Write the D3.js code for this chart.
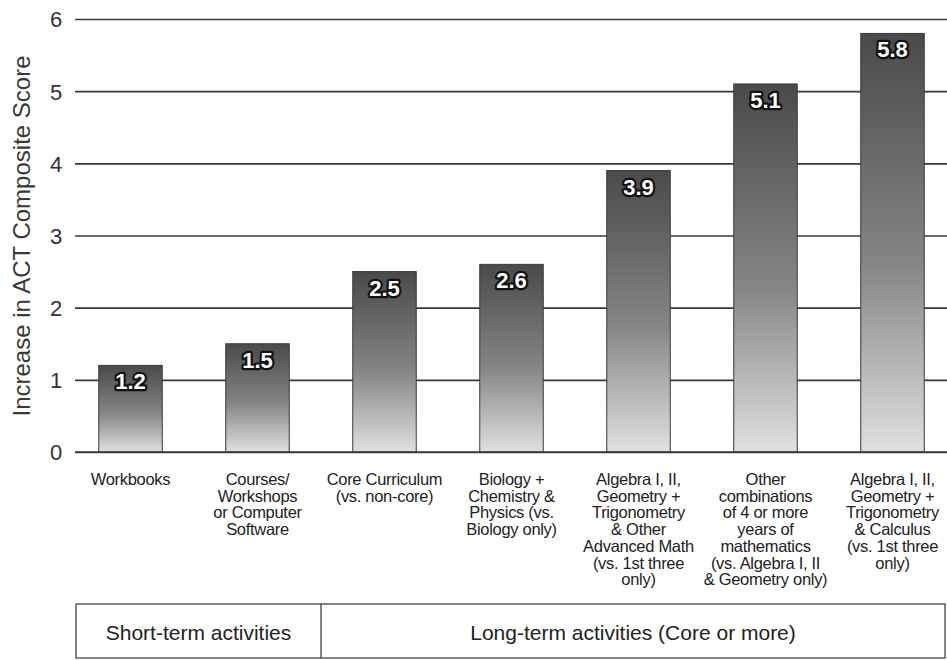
<!DOCTYPE html>
<html>
<head>
<meta charset="utf-8">
<script src="https://cdn.jsdelivr.net/npm/d3@7"></script>
<style>
  body { margin: 0; background: #fff; }
  text { font-family: "Liberation Sans", Arial, sans-serif; }
</style>
</head>
<body>
<div id="chart"></div>
<script>
var categories = [
  ["Workbooks"],
  ["Courses/", "Workshops", "or Computer", "Software"],
  ["Core Curriculum", "(vs. non-core)"],
  ["Biology +", "Chemistry &", "Physics (vs.", "Biology only)"],
  ["Algebra I, II,", "Geometry +", "Trigonometry", "& Other", "Advanced Math", "(vs. 1st three", "only)"],
  ["Other", "combinations", "of 4 or more", "years of", "mathematics", "(vs. Algebra I, II", "& Geometry only)"],
  ["Algebra I, II,", "Geometry +", "Trigonometry", "& Calculus", "(vs. 1st three", "only)"]
];
var values = [1.2, 1.5, 2.5, 2.6, 3.9, 5.1, 5.8];
var yTicks = [0, 1, 2, 3, 4, 5, 6];
var groups = [
  {label: "Short-term activities", first: 0, last: 1},
  {label: "Long-term activities (Core or more)", first: 2, last: 6}
];
var yTitle = "Increase in ACT Composite Score";

var W = 947, H = 660;
var gridLeft = 75, gridRight = 947;

var svg = d3.select("#chart").append("svg")
    .attr("width", W)
    .attr("height", H);

var defs = svg.append("defs");
var grad = defs.append("linearGradient")
    .attr("id", "barGrad")
    .attr("x1", 0).attr("y1", 0).attr("x2", 0).attr("y2", 1);
grad.append("stop").attr("offset", "0%").attr("stop-color", "#4a4a4a");
grad.append("stop").attr("offset", "55%").attr("stop-color", "#858585");
grad.append("stop").attr("offset", "100%").attr("stop-color", "#e0e0e0");

var idx = d3.range(values.length);

// scales
var x = d3.scaleBand()
    .domain(idx)
    .range([67, 956])
    .paddingInner(0.5)
    .paddingOuter(0.25);

var y = d3.scaleLinear()
    .domain([0, 6])
    .range([452, 19]);

// gridlines
var ga = svg.append("g")
    .attr("transform", "translate(" + gridRight + ",0)")
    .call(d3.axisRight(y).tickValues(yTicks).tickSize(-(gridRight - gridLeft)).tickFormat(""));
ga.select(".domain").remove();
ga.selectAll(".tick line").attr("stroke", "#3a3a3a").attr("stroke-width", 1.6);

// y tick labels
var gl = svg.append("g")
    .attr("transform", "translate(" + (gridLeft - 8) + ",0)")
    .call(d3.axisLeft(y).tickValues(yTicks).tickSize(0).tickPadding(4).tickFormat(d3.format("d")));
gl.select(".domain").remove();
gl.selectAll(".tick text")
    .attr("font-size", 22)
    .attr("fill", "#333")
    .attr("text-anchor", "middle")
    .attr("x", -11)
    .attr("dy", "0.36em");

// y title
svg.append("text")
    .attr("transform", "translate(30," + 236 + ") rotate(-90)")
    .attr("text-anchor", "middle")
    .attr("font-size", 24)
    .attr("fill", "#3a3a3a")
    .text(yTitle);

// bars
svg.selectAll(".bar")
    .data(idx)
  .enter().append("rect")
    .attr("class", "bar")
    .attr("x", function(i) { return x(i); })
    .attr("width", x.bandwidth())
    .attr("y", function(i) { return y(values[i]); })
    .attr("height", function(i) { return y(0) - y(values[i]); })
    .attr("fill", "url(#barGrad)")
    .attr("stroke", "#3a3a3a")
    .attr("stroke-width", 1);

// baseline on top of bars
svg.append("line")
    .attr("x1", gridLeft).attr("x2", gridRight)
    .attr("y1", y(0)).attr("y2", y(0))
    .attr("stroke", "#3a3a3a").attr("stroke-width", 1.6);

// value labels
svg.selectAll(".val")
    .data(idx)
  .enter().append("text")
    .attr("class", "val")
    .attr("x", function(i) { return x(i) + x.bandwidth() / 2; })
    .attr("y", function(i) { return y(values[i]) + 24; })
    .attr("text-anchor", "middle")
    .attr("font-size", 22)
    .attr("font-weight", "bold")
    .attr("fill", "#fff")
    .attr("stroke", "#111")
    .attr("stroke-width", 4.5)
    .attr("stroke-linejoin", "round")
    .attr("paint-order", "stroke")
    .text(function(i) { return values[i].toFixed(1); });

// category labels
var cat = svg.selectAll(".cat")
    .data(idx)
  .enter().append("text")
    .attr("class", "cat")
    .attr("text-anchor", "middle")
    .attr("font-size", 16.5)
    .attr("letter-spacing", -0.3)
    .attr("fill", "#222");
cat.selectAll("tspan")
    .data(function(i) { return categories[i].map(function(s) { return {s: s, i: i}; }); })
  .enter().append("tspan")
    .attr("x", function(d) { return x(d.i) + x.bandwidth() / 2; })
    .attr("y", function(d, j) { return 485 + j * 16.7; })
    .text(function(d) { return d.s; });

// group box
var boxTop = 604, boxBottom = 658, boxLeft = 76, boxRight = 945;
var divider = (x(groups[0].last) + x.bandwidth() + x(groups[1].first)) / 2;
var box = svg.append("g").attr("fill", "none").attr("stroke", "#333").attr("stroke-width", 1.2);
box.append("rect")
    .attr("x", boxLeft).attr("y", boxTop)
    .attr("width", boxRight - boxLeft).attr("height", boxBottom - boxTop);
box.append("line")
    .attr("x1", divider).attr("x2", divider)
    .attr("y1", boxTop).attr("y2", boxBottom);

var gx = [[boxLeft, divider], [divider, boxRight]];
svg.selectAll(".grp")
    .data(groups)
  .enter().append("text")
    .attr("class", "grp")
    .attr("x", function(d, i) { return (gx[i][0] + gx[i][1]) / 2; })
    .attr("y", 640)
    .attr("text-anchor", "middle")
    .attr("font-size", 21)
    .attr("fill", "#222")
    .text(function(d) { return d.label; });
</script>
</body>
</html>
